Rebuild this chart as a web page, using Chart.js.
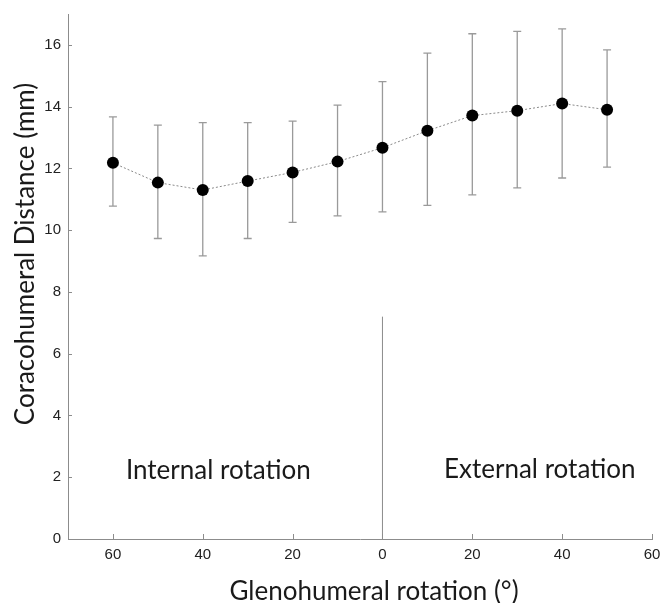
<!DOCTYPE html>
<html><head><meta charset="utf-8">
<script src="https://cdn.jsdelivr.net/npm/chart.js@4.4.1/dist/chart.umd.min.js"></script>
<style>html,body{margin:0;padding:0;background:#fff}#wrap{width:661px;height:603px}</style>
</head><body><div id="wrap"><canvas id="c" width="661" height="603"></canvas></div>
<script>
// ---- data ----
const rotation = [-60, -50, -40, -30, -20, -10, 0, 10, 20, 30, 40, 50];
const meanDistance = [12.18, 11.54, 11.30, 11.59, 11.87, 12.22, 12.67, 13.22, 13.71, 13.87, 14.10, 13.90];
const errorHigh = [13.67, 13.40, 13.48, 13.48, 13.53, 14.05, 14.81, 15.73, 16.36, 16.44, 16.52, 15.84];
const errorLow = [10.78, 9.73, 9.17, 9.73, 10.25, 10.46, 10.59, 10.80, 11.14, 11.37, 11.69, 12.04];
const xTicks = [-60, -40, -20, 0, 20, 40, 60];
const yTicks = [0, 2, 4, 6, 8, 10, 12, 14, 16];
const dividerX = [0, 0];
const dividerY = [0, 7.2];
const regionText = ['Internal rotation', 'External rotation'];
const regionX = [-57.1, 13.7];
const regionY = [1.93, 1.98];
const xTitle = 'Glenohumeral rotation (°)';
const yTitle = 'Coracohumeral Distance (mm)';

const AXIS_COLOR = '#8c8c8c';
const TEXT_FONT = 'Lato, "Open Sans", sans-serif';

const errorBars = {
  id: 'errorBars',
  beforeDatasetsDraw(chart) {
    const {ctx, scales: {x, y}} = chart;
    ctx.save();
    ctx.strokeStyle = '#9a9a9a';
    ctx.lineWidth = 1.3;
    rotation.forEach((r, i) => {
      const px = x.getPixelForValue(r);
      const pt = y.getPixelForValue(errorHigh[i]);
      const pb = y.getPixelForValue(errorLow[i]);
      ctx.beginPath();
      ctx.moveTo(px, pt); ctx.lineTo(px, pb);
      ctx.moveTo(px - 4, pt); ctx.lineTo(px + 4, pt);
      ctx.moveTo(px - 4, pb); ctx.lineTo(px + 4, pb);
      ctx.stroke();
    });
    ctx.restore();
  }
};

const decorations = {
  id: 'decorations',
  afterDraw(chart) {
    const {ctx, scales: {x, y}, chartArea} = chart;
    ctx.save();
    // inward tick marks
    ctx.strokeStyle = AXIS_COLOR;
    ctx.lineWidth = 1;
    ctx.beginPath();
    xTicks.forEach(v => {
      const px = Math.round(x.getPixelForValue(v)) + 0.5;
      ctx.moveTo(px, chartArea.bottom); ctx.lineTo(px, chartArea.bottom - 5);
    });
    yTicks.forEach(v => {
      const py = Math.round(y.getPixelForValue(v)) + 0.5;
      ctx.moveTo(chartArea.left, py); ctx.lineTo(chartArea.left + 4, py);
    });
    ctx.stroke();
    // region labels
    ctx.fillStyle = '#1a1a1a';
    ctx.font = '26px ' + TEXT_FONT;
    ctx.textAlign = 'left';
    ctx.textBaseline = 'alphabetic';
    regionText.forEach((t, i) => {
      ctx.fillText(t, x.getPixelForValue(regionX[i]), y.getPixelForValue(regionY[i]));
    });
    // axis titles
    ctx.font = '26px ' + TEXT_FONT;
    ctx.textAlign = 'center';
    ctx.fillText(xTitle, 374, 600);
    ctx.translate(34, 254);
    ctx.rotate(-Math.PI / 2);
    ctx.fillText(yTitle, 0, 0);
    ctx.restore();
  }
};

const tickFont = {family: 'Arial, "Liberation Sans", sans-serif', size: 15};

new Chart(document.getElementById('c'), {
  type: 'scatter',
  data: {
    datasets: [
      {
        data: rotation.map((r, i) => ({x: r, y: meanDistance[i]})),
        showLine: true,
        borderColor: '#8a8a8a',
        borderWidth: 1,
        borderDash: [2, 2],
        pointRadius: 6,
        pointHoverRadius: 6,
        pointBorderWidth: 0,
        pointBackgroundColor: '#000',
        order: 0
      },
      {
        data: dividerX.map((v, i) => ({x: v, y: dividerY[i]})),
        showLine: true,
        borderColor: '#8c8c8c',
        borderWidth: 1,
        pointRadius: 0,
        order: 1
      }
    ]
  },
  options: {
    responsive: false,
    animation: false,
    devicePixelRatio: 1,
    layout: {padding: {top: 14, right: 9, left: 0, bottom: 0}},
    plugins: {legend: {display: false}, tooltip: {enabled: false}},
    scales: {
      x: {
        type: 'linear', min: -70, max: 60,
        afterBuildTicks: s => { s.ticks = xTicks.map(v => ({value: v})); },
        afterFit: s => { s.height = 64; s.paddingRight = 0; s.paddingLeft = 0; },
        grid: {display: false, drawTicks: false},
        border: {display: true, color: AXIS_COLOR, width: 1},
        ticks: {callback: v => Math.abs(v), font: tickFont, color: '#222', padding: 7, maxRotation: 0, autoSkip: false}
      },
      y: {
        type: 'linear', min: 0, max: 17,
        afterBuildTicks: s => { s.ticks = yTicks.map(v => ({value: v})); },
        afterFit: s => { s.width = 68; s.paddingTop = 0; s.paddingBottom = 0; },
        grid: {display: false, drawTicks: false},
        border: {display: true, color: AXIS_COLOR, width: 1},
        ticks: {font: tickFont, color: '#222', padding: 7, autoSkip: false}
      }
    }
  },
  plugins: [errorBars, decorations]
});
</script>
</body></html>
